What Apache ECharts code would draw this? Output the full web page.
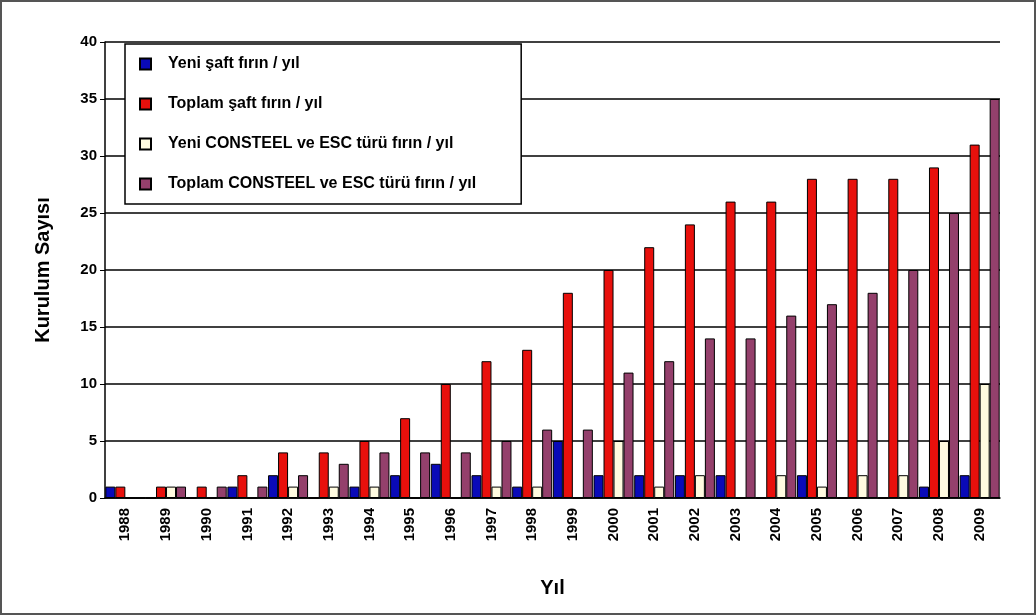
<!DOCTYPE html><html><head><meta charset="utf-8"><script src="https://cdn.jsdelivr.net/npm/echarts@6/dist/echarts.min.js"></script>
<style>body{margin:0;background:#fff}#c{width:1036px;height:615px;box-sizing:border-box;border:2px solid #555}</style></head><body><div id="c"></div><script>
const years=['1988','1989','1990','1991','1992','1993','1994','1995','1996','1997','1998','1999','2000','2001','2002','2003','2004','2005','2006','2007','2008','2009'];
const yeniSaft=[1,0,0,1,2,0,1,2,3,2,1,5,2,2,2,2,0,2,0,0,1,2];
const toplamSaft=[1,1,1,2,4,4,5,7,10,12,13,18,20,22,24,26,26,28,28,28,29,31];
const yeniConsteel=[0,1,0,0,1,1,1,0,0,1,1,0,5,1,2,0,2,1,2,2,5,10];
const toplamConsteel=[0,1,1,1,2,3,4,4,4,5,6,6,11,12,14,14,16,17,18,20,25,35];
const names=['Yeni şaft fırın / yıl','Toplam şaft fırın / yıl','Yeni CONSTEEL ve ESC türü fırın / yıl','Toplam CONSTEEL ve ESC türü fırın / yıl'];
const colors=['#0a0ab8','#e8100c','#fffbe0','#94406c'];
const data=[yeniSaft,toplamSaft,yeniConsteel,toplamConsteel];
const ch=echarts.init(document.getElementById('c'));
ch.setOption({
 animation:false,
 grid:{left:103,right:34,top:40,bottom:115},
 legend:{orient:'vertical',left:123,top:42,itemGap:24,itemWidth:11,itemHeight:11,icon:'rect',padding:[12,45,12,14],
  borderColor:'#000',borderWidth:1.5,backgroundColor:'#fff',
  textStyle:{fontFamily:'Liberation Sans, Arial',fontWeight:'bold',fontSize:16,color:'#000',padding:[0,0,0,12]},data:names},
 xAxis:{type:'category',data:years,axisLine:{lineStyle:{color:'#000',width:1.5}},axisTick:{lineStyle:{color:'#000'}},
  axisLabel:{rotate:90,color:'#000',fontWeight:'bold',fontSize:15,fontFamily:'Liberation Sans, Arial',margin:10},
  name:'Yıl',nameLocation:'middle',nameGap:80,nameTextStyle:{fontWeight:'bold',fontSize:20,color:'#000',fontFamily:'Liberation Sans, Arial'}},
 yAxis:{type:'value',min:0,max:40,interval:5,axisLine:{show:true,lineStyle:{color:'#000',width:1.5}},axisTick:{show:true,lineStyle:{color:'#000'}},
  splitLine:{lineStyle:{color:'#000',width:1.5}},
  axisLabel:{color:'#000',fontWeight:'bold',fontSize:15,fontFamily:'Liberation Sans, Arial'},
  name:'Kurulum Sayısı',nameLocation:'middle',nameGap:52,nameTextStyle:{fontWeight:'bold',fontSize:20,color:'#000',fontFamily:'Liberation Sans, Arial'}},
 series:data.map((d,i)=>({name:names[i],type:'bar',data:d,barWidth:10,barGap:'0%',
  itemStyle:{color:colors[i],borderColor:'#000',borderWidth:1}}))
});
</script></body></html>
